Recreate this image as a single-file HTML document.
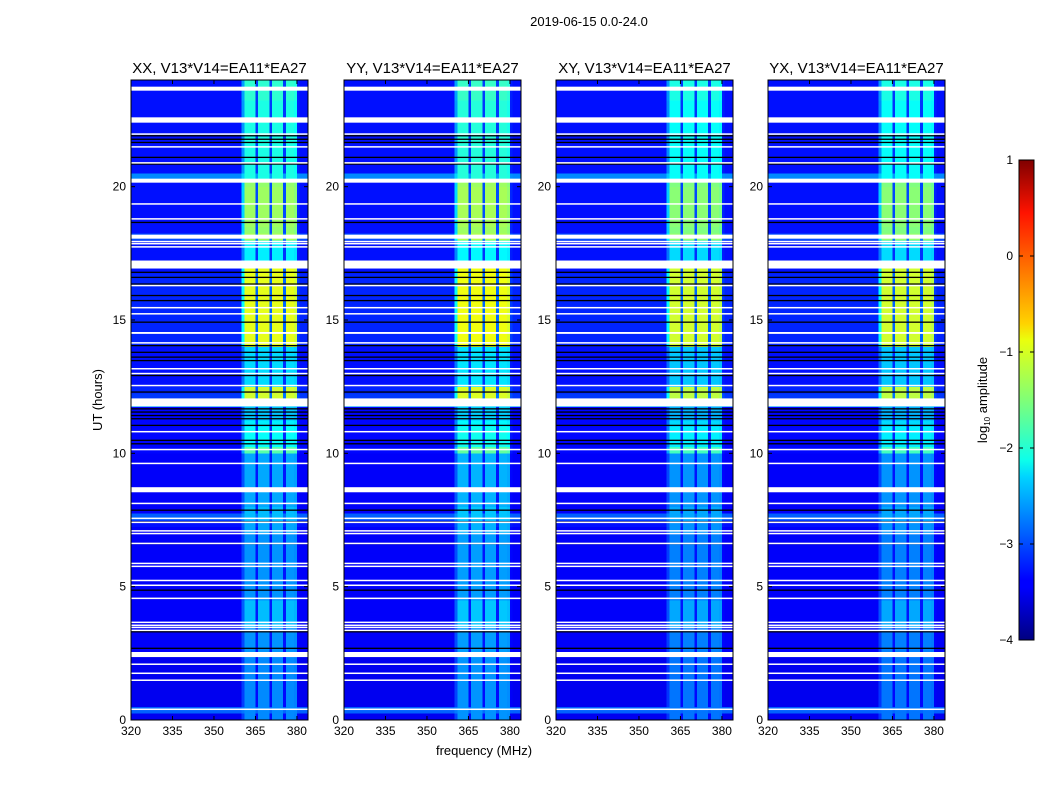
<!DOCTYPE html>
<html><head><meta charset="utf-8">
<style>
html,body{margin:0;padding:0;background:#fff;width:1050px;height:800px;overflow:hidden}
svg{display:block;font-family:"Liberation Sans","DejaVu Sans",sans-serif}
</style></head>
<body>
<svg id="fig" width="1050" height="800" viewBox="0 0 1050 800" xmlns="http://www.w3.org/2000/svg">
<defs>
<linearGradient id="jet" x1="0" y1="1" x2="0" y2="0">
<stop offset="0" stop-color="#000080"/><stop offset="0.11" stop-color="#0000ff"/>
<stop offset="0.125" stop-color="#0000ff"/><stop offset="0.34" stop-color="#00d4ff"/>
<stop offset="0.375" stop-color="#0dffea"/><stop offset="0.5" stop-color="#80ff77"/>
<stop offset="0.625" stop-color="#eaff0d"/><stop offset="0.66" stop-color="#ffd200"/>
<stop offset="0.89" stop-color="#ff1300"/><stop offset="1" stop-color="#800000"/>
</linearGradient>
</defs>
<text x="589" y="26" font-size="13" text-anchor="middle">2019-06-15 0.0-24.0</text>
<text transform="translate(102,400) rotate(-90)" font-size="13" text-anchor="middle">UT (hours)</text>
<text x="484" y="755" font-size="13" text-anchor="middle">frequency (MHz)</text>
<g id="panels"></g>
<g id="cbar">
<rect x="1019" y="160" width="15" height="480" fill="url(#jet)" stroke="#000" stroke-width="1"/>
<text transform="translate(987,400) rotate(-90)" font-size="13" text-anchor="middle">log<tspan font-size="8" dy="3">10</tspan><tspan dy="-3"> amplitude</tspan></text>
</g>
</svg>
<script>
// ---- data ----
const panelTitles = ["XX, V13*V14=EA11*EA27","YY, V13*V14=EA11*EA27","XY, V13*V14=EA11*EA27","YX, V13*V14=EA11*EA27"];
const panelOffsets = [0, 0.05, -0.1, -0.1];
const xTicks = [320,335,350,365,380];
const yTicks = [0,5,10,15,20];
const cbarTicks = [-4,-3,-2,-1,0,1];
// time rows of 0.25 h, 0..24
const bgLevel = [-3.45,-2.9,-3.45,-3.45,-3.45,-3.45,-3.45,-3.45,-3.45,-3.45,
 -3.4,-3.4,-3.4,-3.4,-3.4,-3.4,-3.4,-3.4,-3.4,-3.4,
 -3.4,-3.4,-3.4,-3.4,-3.4,-3.4,-3.4,-3.4,-3.4,-3.3,
 -2.9,-3.4,-3.4,-3.4,-3.4,-3.4,-3.4,-3.4,-3.4,-3.4,
 -3.35,-3.35,-3.35,-3.35,-3.35,-3.35,-3.35,-2.6,-3.1,-3.2,
 -3.3,-3.3,-3.3,-3.3,-3.3,-3.3,-3.2,-3.2,-3.2,-3.2,
 -3.2,-3.2,-3.2,-3.2,-3.2,-3.2,-3.2,-3.3,-3.3,-3.3,
 -3.3,-3.3,-3.0,-3.3,-3.3,-3.3,-3.3,-3.3,-3.3,-3.3,
 -3.3,-2.7,-3.3,-3.3,-3.3,-3.3,-3.3,-3.3,-3.3,-3.3,
 -3.3,-3.3,-3.3,-3.3,-3.3,-3.3];
const bandLevel = [-2.7,-2.7,-2.7,-2.7,-2.7,-2.7,-2.7,-2.7,-2.7,-2.7,
 -2.65,-2.65,-2.65,-2.65,-2.45,-2.45,-2.45,-2.45,-2.65,-2.65,
 -2.65,-2.65,-2.65,-2.65,-2.65,-2.65,-2.65,-2.65,-2.55,-2.55,
 -2.45,-2.45,-2.55,-2.55,-2.55,-2.55,-2.55,-2.55,-2.55,-2.55,
 -1.7,-2.1,-2.1,-2.1,-2.2,-2.4,-2.4,-2.4,-1.1,-1.1,
 -2.3,-2.3,-2.3,-2.3,-2.3,-2.3,-1.0,-1.0,-1.0,-1.0,
 -1.0,-1.0,-1.0,-1.0,-1.0,-1.0,-1.0,-1.0,-2.2,-2.2,
 -2.2,-2.2,-1.3,-1.4,-1.35,-1.35,-1.35,-1.35,-1.35,-1.35,
 -1.4,-2.0,-2.0,-2.0,-2.0,-2.0,-2.0,-2.0,-2.0,-2.0,
 -2.0,-2.0,-2.0,-1.9,-1.9,-1.9];
// 1 MHz frequency bins 320..383: weight of band level
const bandWeight = [0,0,0,0,0,0,0,0,0,0, 0,0,0,0,0,0,0,0,0,0,
 0,0,0,0,0,0,0,0,0,0, 0,0,0,0,0,0,0,0,0,0,
 0.5,1,1,1,1,0.15,1,1,1,1, 0.15,1,1,1,1,0.15,1,1,1,0.95, 0.05,0,0,0];
const flagStart = [23.6,22.4,21.96,21.48,20.88,20.15,19.34,18.78,18.05,17.93,17.85,17.73,16.93,16.28,15.45,15.22,14.48,14.13,13.16,12.98,12.53,11.76,10.8,10.13,9.61,8.54,8.11,7.55,7.4,7.08,6.98,6.61,5.86,5.75,5.22,5.04,4.55,3.65,3.54,3.46,3.35,2.36,2.08,1.74,1.48,0.39];
const flagEnd   = [23.75,22.6,22.0,21.52,20.92,20.3,19.38,18.82,18.2,17.97,17.89,17.77,17.23,16.32,15.49,15.26,14.55,14.17,13.2,13.02,12.57,12.06,10.84,10.17,9.65,8.73,8.15,7.59,7.44,7.12,7.02,6.65,5.9,5.79,5.26,5.08,4.59,3.69,3.58,3.5,3.39,2.55,2.12,1.78,1.52,0.43];
const blackLines = [21.91,21.78,21.66,21.1,20.85,18.66,16.79,16.6,16.35,15.92,15.73,14.92,14.04,13.79,13.61,13.48,12.92,12.3,11.67,11.55,11.42,11.3,11.05,10.49,10.36,7.87,7.43,6.62,4.87,3.31,2.69];

// ---- helpers ----
const NS="http://www.w3.org/2000/svg";
function jet(v){
  let t=(v+4)/5; t=Math.max(0,Math.min(1,t));
  const c=x=>Math.round(255*Math.max(0,Math.min(1,x)));
  return `rgb(${c(1.5-Math.abs(4*t-3))},${c(1.5-Math.abs(4*t-2))},${c(1.5-Math.abs(4*t-1))})`;
}
function mk(tag,attrs,parent){const e=document.createElementNS(NS,tag);for(const k in attrs)e.setAttribute(k,attrs[k]);parent.appendChild(e);return e;}
const panelLefts=[131,344,556,768];
const PW=177, PT=80, PH=640, F0=320, F1=384, T0=0, T1=24;
const panelsG=document.getElementById('panels');

panelLefts.forEach((L,p)=>{
  const xs=f=>L+(f-F0)/(F1-F0)*PW;
  const ys=t=>PT+PH-(t-T0)/(T1-T0)*PH;
  const g=mk('g',{},panelsG);
  
  
  const hm=mk('g',{'shape-rendering':'crispEdges'},g);
  
  
  for(let r=0;r<bgLevel.length;r++){
    const t=r*0.25, y0=ys(t+0.25), y1=ys(t);
    for(let c=0;c<bandWeight.length;c++){
      const f=F0+c, x0=xs(f), x1=xs(f+1);
      const v=bgLevel[r]+bandWeight[c]*(bandLevel[r]-bgLevel[r])+panelOffsets[p]*bandWeight[c];
      const cell=mk('rect',{x:x0.toFixed(2),y:y0.toFixed(2),width:(x1-x0+0.4).toFixed(2),height:(y1-y0+0.4).toFixed(2),fill:jet(v)},hm);
      
      
    }
  }
  blackLines.forEach(t=>{
    const l=mk('rect',{x:L,y:(ys(t)-0.6).toFixed(2),width:PW,height:1.3,fill:'#000'},g);
    
    
  });
  flagStart.forEach((s,i)=>{
    const e=flagEnd[i];
    const r=mk('rect',{x:L,y:ys(e).toFixed(2),width:PW,height:Math.max(1.5,ys(s)-ys(e)).toFixed(2),fill:'#fff'},g);
    
    
  });
  const fr=mk('rect',{x:L,y:PT,width:PW,height:PH,fill:'none',stroke:'#000','stroke-width':1},g);
  
  
  const tt=mk('text',{x:L+PW/2,y:73,'font-size':15,'text-anchor':'middle'},g);
  tt.textContent=panelTitles[p];
  
  
  xTicks.forEach(f=>{
    const x=xs(f);
    mk('line',{x1:x,y1:PT+PH,x2:x,y2:PT+PH-4,stroke:'#000'},g);
    mk('line',{x1:x,y1:PT,x2:x,y2:PT+4,stroke:'#000'},g);
    const lb=mk('text',{x:x,y:PT+PH+15,'font-size':12,'text-anchor':'middle'},g);
    lb.textContent=f;
    
    
  });
  yTicks.forEach(t=>{
    const y=ys(t);
    mk('line',{x1:L,y1:y,x2:L+4,y2:y,stroke:'#000'},g);
    mk('line',{x1:L+PW,y1:y,x2:L+PW-4,y2:y,stroke:'#000'},g);
    const lb=mk('text',{x:L-5,y:y+4,'font-size':12,'text-anchor':'end'},g);
    lb.textContent=t;
    
    
  });
});
// colorbar ticks
const cb=document.getElementById('cbar');
const cys=v=>640-(v+4)/5*480;
cbarTicks.forEach(v=>{
  const y=cys(v);
  mk('line',{x1:1019,y1:y,x2:1023,y2:y,stroke:'#000'},cb);
  mk('line',{x1:1034,y1:y,x2:1030,y2:y,stroke:'#000'},cb);
  const lb=mk('text',{x:1013,y:y+4,'font-size':12,'text-anchor':'end'},cb);
  lb.textContent=v<0?'\u2212'+(-v):String(v);
  
  
});
</script>
</body></html>
